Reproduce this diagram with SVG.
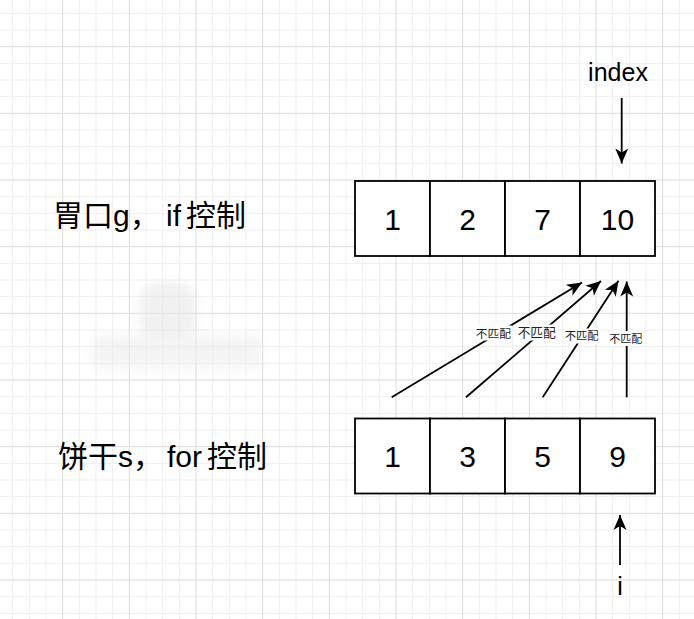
<svg xmlns="http://www.w3.org/2000/svg" width="694" height="619" viewBox="0 0 694 619">
<style>
.minor{stroke:#efefef;stroke-width:1;fill:none}
.major{stroke:#dcdcdc;stroke-width:1;fill:none}
.cell{fill:#ffffff;stroke:#000000;stroke-width:1.8}
.num{font-family:"Liberation Sans","Noto Sans CJK SC",sans-serif;font-size:30px;fill:#000;text-anchor:middle}
.lbl{font-family:"Liberation Sans","Noto Sans CJK SC",sans-serif;font-size:30px;fill:#000}
.ptr{font-family:"Liberation Sans","Noto Sans CJK SC",sans-serif;font-size:25px;fill:#000;text-anchor:middle}
.edge{stroke:#000;stroke-width:1.8;fill:none;marker-end:url(#arr)}
.elbl{font-family:"Liberation Sans","Noto Sans CJK SC",sans-serif;fill:#222;text-anchor:middle}
</style>
<defs>
<marker id="arr" markerUnits="userSpaceOnUse" markerWidth="20" markerHeight="16" viewBox="-16 -8 18 16" refX="0" refY="0" orient="auto">
<path d="M0,0 L-15,-6.5 L-11,0 L-15,6.5 Z" fill="#000"/>
</marker>
<filter id="blur" x="-20%" y="-20%" width="140%" height="140%"><feGaussianBlur stdDeviation="5"/></filter>
</defs>
<rect width="694" height="619" fill="#ffffff"/>
<g id="grid">
<path class="minor" d="M12.67 0V619M29.33 0V619M46 0V619M79.33 0V619M96 0V619M112.67 0V619M146 0V619M162.67 0V619M179.33 0V619M212.67 0V619M229.33 0V619M246 0V619M279.33 0V619M296 0V619M312.67 0V619M346 0V619M362.67 0V619M379.33 0V619M412.67 0V619M429.33 0V619M446 0V619M479.33 0V619M496 0V619M512.67 0V619M546 0V619M562.67 0V619M579.33 0V619M612.67 0V619M629.33 0V619M646 0V619M679.33 0V619
M0 13.33H694M0 30H694M0 63.33H694M0 80H694M0 96.67H694M0 130H694M0 146.67H694M0 163.33H694M0 196.67H694M0 213.33H694M0 230H694M0 263.33H694M0 280H694M0 296.67H694M0 330H694M0 346.67H694M0 363.33H694M0 396.67H694M0 413.33H694M0 430H694M0 463.33H694M0 480H694M0 496.67H694M0 530H694M0 546.67H694M0 563.33H694M0 596.67H694M0 613.33H694"/>
<path class="major" d="M62.67 0V619M129.33 0V619M196 0V619M262.67 0V619M329.33 0V619M396 0V619M462.67 0V619M529.33 0V619M596 0V619M662.67 0V619
M0 46.67H694M0 113.33H694M0 180H694M0 246.67H694M0 313.33H694M0 380H694M0 446.67H694M0 513.33H694M0 580H694"/>
</g>
<g id="blur-mark" opacity="0.55" filter="url(#blur)">
<rect x="140" y="282" width="56" height="60" rx="20" fill="#e6e6e6"/>
<rect x="92" y="336" width="170" height="32" rx="6" fill="#ececec"/>
</g>
<g id="label-g">
<text class="lbl" y="226"><tspan x="53">胃口g，</tspan><tspan x="166">if</tspan><tspan x="186">控制</tspan></text>
</g>
<g id="label-s">
<text class="lbl" y="467"><tspan x="58">饼干s，</tspan><tspan x="167">for</tspan><tspan x="207">控制</tspan></text>
</g>
<g id="array-g">
<rect class="cell" x="355" y="181" width="75" height="75"/>
<rect class="cell" x="430" y="181" width="75" height="75"/>
<rect class="cell" x="505" y="181" width="75" height="75"/>
<rect class="cell" x="580" y="181" width="75" height="75"/>
<text class="num" x="392.5" y="230">1</text>
<text class="num" x="467.5" y="230">2</text>
<text class="num" x="542.5" y="230">7</text>
<text class="num" x="617.5" y="230">10</text>
</g>
<g id="array-s">
<rect class="cell" x="355" y="418.5" width="75" height="75"/>
<rect class="cell" x="430" y="418.5" width="75" height="75"/>
<rect class="cell" x="505" y="418.5" width="75" height="75"/>
<rect class="cell" x="580" y="418.5" width="75" height="75"/>
<text class="num" x="392.5" y="466.5">1</text>
<text class="num" x="467.5" y="466.5">3</text>
<text class="num" x="542.5" y="466.5">5</text>
<text class="num" x="617.5" y="466.5">9</text>
</g>
<g id="index-label">
<text class="ptr" x="618" y="81">index</text>
</g>
<g id="i-label">
<text class="ptr" x="620" y="595">i</text>
</g>
<g id="connectors">
<line class="edge" x1="621.7" y1="98" x2="621.7" y2="163.5"/>
<line class="edge" x1="620" y1="565" x2="620" y2="515"/>
<line class="edge" x1="391.7" y1="397.3" x2="582" y2="282.5"/>
<line class="edge" x1="466" y1="397.3" x2="601" y2="281"/>
<line class="edge" x1="542.7" y1="397.3" x2="618.5" y2="280.7"/>
<line class="edge" x1="626.7" y1="397.3" x2="626.7" y2="281.5"/>
<g id="edge-labels">
<rect x="475" y="325.5" width="37" height="15" fill="#fff"/>
<text class="elbl" x="493.3" y="337.6" font-size="11.7">不匹配</text>
<rect x="517" y="324.5" width="40" height="16" fill="#fff"/>
<text class="elbl" x="536.7" y="337.4" font-size="12.7">不匹配</text>
<rect x="564" y="328.5" width="36" height="15" fill="#fff"/>
<text class="elbl" x="581.7" y="340.3" font-size="11.3">不匹配</text>
<rect x="608.5" y="331" width="35" height="15" fill="#fff"/>
<text class="elbl" x="625.7" y="342.5" font-size="11">不匹配</text>
</g>
</g>
</svg>
